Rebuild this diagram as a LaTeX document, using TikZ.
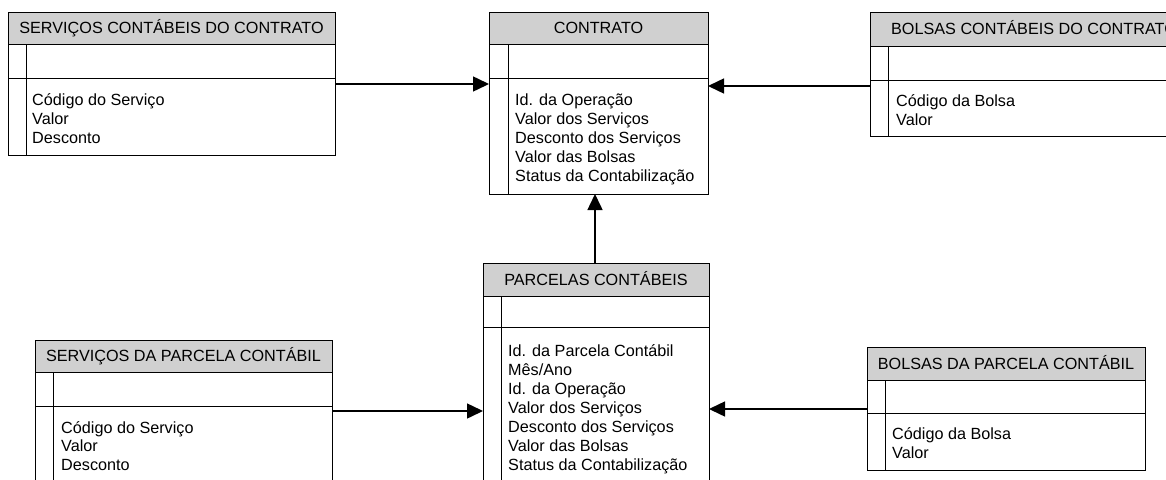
\documentclass[tikz,border=0pt]{standalone}
\usepackage{fontspec}
\setmainfont{Liberation Sans}
\usetikzlibrary{arrows.meta,calc}
\definecolor{hdrgray}{RGB}{208,208,208}
\newcommand\bodyfont{\fontsize{16.2}{19.2}\selectfont}
\newcommand\ertable[9]{%
  \node[tbl, minimum width={#4-#2}, minimum height={#7-#3}] (#1) at (#2,#3) {};
  \filldraw[hdr] (#2,#3) rectangle (#4,#5);
  \draw[ln] (#2,#6) -- (#4,#6);
  \draw[ln] (#8,#5) -- (#8,#7);
  \node[ttl] (#1-title) at ({(#2+#4)/2},{(#3+#5)/2+5.6}) {#9};
}
\tikzset{
  tbl/.style={draw=black, line width=1pt, inner sep=0pt, outer sep=0pt, anchor=north west},
  hdr/.style={fill=hdrgray, draw=black, line width=1pt},
  ln/.style={draw=black, line width=1pt},
  arr/.style={-{Triangle[length=16pt,width=15pt]}, line width=1.5pt},
  txt/.style={anchor=base west, inner sep=0pt, font=\bodyfont},
  ttl/.style={anchor=base, inner sep=0pt, font=\bodyfont}
}
\begin{document}
\begin{tikzpicture}[x=1pt,y=-1pt]
\useasboundingbox (0,0) rectangle (1166,479);
\clip (0,0) rectangle (1166,479);
\fill[white] (0,0) rectangle (1166,479);

% tables: name, L, T, R, header bottom, row2 bottom, bottom, inner x, title
\ertable{t1}{8}{12}{335}{44}{78}{155}{26}{SERVIÇOS CONTÁBEIS DO CONTRATO}
\ertable{t2}{489}{12}{708}{44}{78}{194}{508}{CONTRATO}
\ertable{t3}{870}{12}{1198}{46}{80}{136}{888}{BOLSAS CONTÁBEIS DO CONTRATO}
\ertable{t4}{483}{263}{709}{296}{327}{495}{501}{PARCELAS CONTÁBEIS}
\ertable{t5}{35}{340}{332}{372}{406}{495}{53}{SERVIÇOS DA PARCELA CONTÁBIL}
\ertable{t6}{867}{347}{1145}{380}{413}{470}{885}{BOLSAS DA PARCELA CONTÁBIL}

% body texts
\foreach \t [count=\i from 0] in {Código do Serviço, Valor, Desconto}
  \node[txt] (t1-l\i) at (32,{105+19.2*\i}) {\t};
\foreach \t [count=\i from 0] in {Id. da Operação, Valor dos Serviços, Desconto dos Serviços, Valor das Bolsas, Status da Contabilização}
  \node[txt] (t2-l\i) at (515,{105+19.2*\i}) {\t};
\foreach \t [count=\i from 0] in {Código da Bolsa, Valor}
  \node[txt] (t3-l\i) at (896,{106+19.5*\i}) {\t};
\foreach \t [count=\i from 0] in {Id. da Parcela Contábil, Mês/Ano, Id. da Operação, Valor dos Serviços, Desconto dos Serviços, Valor das Bolsas, Status da Contabilização}
  \node[txt] (t4-l\i) at (508,{356+19*\i}) {\t};
\foreach \t [count=\i from 0] in {Código do Serviço, Valor, Desconto}
  \node[txt] (t5-l\i) at (61,{433+18.9*\i}) {\t};
\foreach \t [count=\i from 0] in {Código da Bolsa, Valor}
  \node[txt] (t6-l\i) at (892,{439+19.5*\i}) {\t};

% connectors
\draw[arr] ($(t1.north east)+(0,72)$) -- ($(t2.north west)+(0,72)$);
\draw[arr] ($(t3.north west)+(0,74)$) -- ($(t2.north east)+(0,74)$);
\draw[arr] ($(t4.north west)+(112,0)$) -- ($(t2.south west)+(106,0)$);
\draw[arr] ($(t5.north east)+(0,71)$) -- ($(t4.north west)+(0,148)$);
\draw[arr] ($(t6.north west)+(0,62)$) -- ($(t4.north east)+(0,146)$);
\end{tikzpicture}
\end{document}
